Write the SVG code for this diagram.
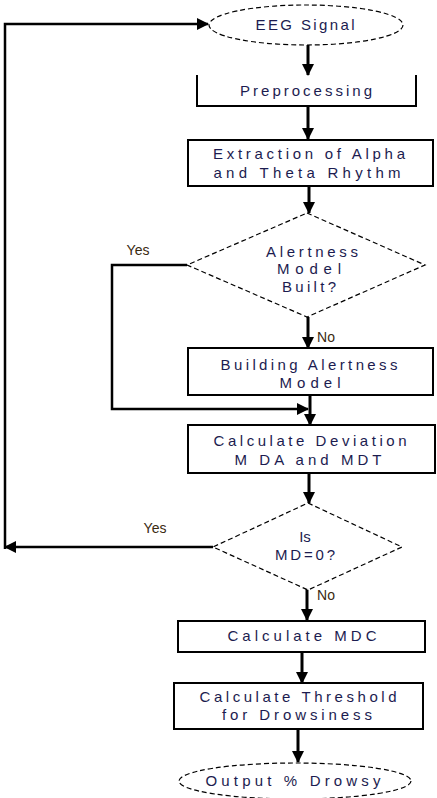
<svg xmlns="http://www.w3.org/2000/svg" width="437" height="798" viewBox="0 0 437 798">
<defs>
<marker id="ah" markerUnits="userSpaceOnUse" markerWidth="12" markerHeight="12" viewBox="0 0 12 12" refX="11" refY="6" orient="auto">
<path d="M0,0 L12,6 L0,12 z" fill="#000"/>
</marker>
</defs>
<style>
.box{fill:#fff;stroke:#000;stroke-width:2}
.dash{fill:#fff;stroke:#000;stroke-width:1.2;stroke-dasharray:5 3}
.con{fill:none;stroke:#000;stroke-width:3}
.loop{fill:none;stroke:#000;stroke-width:2.5}
text{font-family:"Liberation Sans",Arial,sans-serif;font-size:15px;fill:#1c1c50;text-anchor:middle}
.lbl{fill:#3a2a10;font-size:14px}
</style>
<rect width="437" height="798" fill="#fff"/>
<g id="connectors">
<line class="con" x1="308" y1="45" x2="308" y2="75" marker-end="url(#ah)"/>
<line class="con" x1="308" y1="106" x2="308" y2="139" marker-end="url(#ah)"/>
<line class="con" x1="309" y1="186" x2="309" y2="213" marker-end="url(#ah)"/>
<line class="con" x1="308" y1="317" x2="308" y2="348" marker-end="url(#ah)"/>
<line class="con" x1="310" y1="395" x2="310" y2="425" marker-end="url(#ah)"/>
<polyline class="loop" points="187,265 112,265 112,409 308,409" marker-end="url(#ah)"/>
<line class="con" x1="309" y1="473" x2="309" y2="503" marker-end="url(#ah)"/>
<polyline class="loop" points="213,547 5,547" marker-end="url(#ah)"/>
<polyline class="loop" points="5,549 5,24 208,24" marker-end="url(#ah)"/>
<line class="con" x1="307" y1="588" x2="307" y2="620" marker-end="url(#ah)"/>
<line class="con" x1="302" y1="652" x2="302" y2="683" marker-end="url(#ah)"/>
<line class="con" x1="298" y1="729" x2="298" y2="762" marker-end="url(#ah)"/>
<text class="lbl" x="138" y="255">Yes</text>
<text class="lbl" x="326" y="342">No</text>
<text class="lbl" x="155" y="533">Yes</text>
<text class="lbl" x="326" y="600">No</text>
</g>
<g id="eeg">
<ellipse class="dash" cx="306" cy="25" rx="97" ry="20"/>
<text x="305" y="30" textLength="99" lengthAdjust="spacing">EEG Signal</text>
</g>
<g id="preprocessing">
<polyline fill="none" stroke="#000" stroke-width="2" points="197,75 197,106 416,106 416,75"/>
<text x="306" y="96" textLength="132" lengthAdjust="spacing">Preprocessing</text>
</g>
<g id="extraction">
<rect class="box" x="188" y="140" width="245" height="46"/>
<text x="309" y="159" textLength="192" lengthAdjust="spacing">Extraction of Alpha</text>
<text x="307" y="178" textLength="187" lengthAdjust="spacing">and Theta Rhythm</text>
</g>
<g id="alertness-decision">
<polygon class="dash" points="307,213 425,265 307,317 187,265"/>
<text x="312" y="257" textLength="92" lengthAdjust="spacing">Alertness</text>
<text x="309" y="274" textLength="64" lengthAdjust="spacing">Model</text>
<text x="309" y="292" textLength="54" lengthAdjust="spacing">Built?</text>
</g>
<g id="building">
<rect class="box" x="188" y="348" width="245" height="47"/>
<text x="309" y="370" textLength="177" lengthAdjust="spacing">Building Alertness</text>
<text x="310" y="388" textLength="61" lengthAdjust="spacing">Model</text>
</g>
<g id="deviation">
<rect class="box" x="188" y="425" width="247" height="48"/>
<text x="310" y="446" textLength="193" lengthAdjust="spacing">Calculate Deviation</text>
<text x="308" y="465" textLength="147" lengthAdjust="spacing">M DA and MDT</text>
</g>
<g id="md-decision">
<polygon class="dash" points="308,503 402,547 308,590 213,547"/>
<text x="305" y="542">Is</text>
<text x="305" y="560" textLength="60" lengthAdjust="spacing">MD=0?</text>
</g>
<g id="mdc">
<rect class="box" x="178" y="621" width="247" height="31"/>
<text x="302" y="641" textLength="149" lengthAdjust="spacing">Calculate MDC</text>
</g>
<g id="threshold">
<rect class="box" x="174" y="683" width="249" height="46"/>
<text x="298" y="702" textLength="197" lengthAdjust="spacing">Calculate Threshold</text>
<text x="297" y="720" textLength="150" lengthAdjust="spacing">for Drowsiness</text>
</g>
<g id="output">
<ellipse class="dash" cx="295" cy="781" rx="116" ry="18"/>
<text x="293" y="786" textLength="175" lengthAdjust="spacing">Output % Drowsy</text>
</g>
</svg>
